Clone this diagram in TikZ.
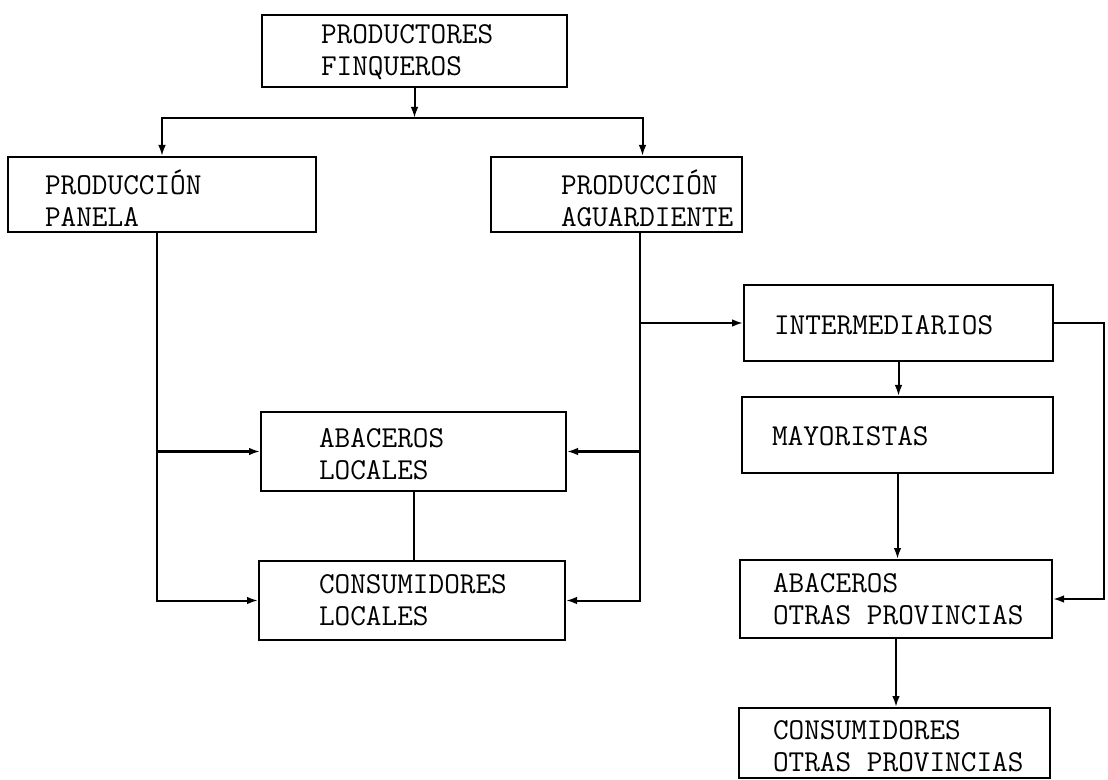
\documentclass[tikz,border=0pt]{standalone}
\usepackage{fontspec}
\usetikzlibrary{arrows.meta}

\begin{document}
\begin{tikzpicture}[x=0.5pt, y=-0.5pt, line width=1pt,
  box/.style={draw, inner sep=0pt},
  txt/.style={anchor=west, align=left, inner sep=0pt,
    font=\ttfamily\fontsize{15.2}{16}\selectfont},
  arr/.style={-{Latex[length=5.5pt,width=3.8pt]}}]
  \useasboundingbox (0,0) rectangle (1108,780);

  \node[box, minimum width=152.5pt, minimum height=36pt]   (fin) at (414.5,51)  {};
  \node[box, minimum width=154pt,   minimum height=37.5pt] (pan) at (162,194.5) {};
  \node[box, minimum width=125.5pt, minimum height=37.5pt] (agu) at (616.5,194.5) {};
  \node[box, minimum width=152.5pt, minimum height=39.5pt] (aba) at (413.5,451.5) {};
  \node[box, minimum width=153pt,   minimum height=39.5pt] (con) at (412,600.5) {};
  \node[box, minimum width=154.5pt, minimum height=38pt]   (int) at (898.5,323) {};
  \node[box, minimum width=155.5pt, minimum height=38pt]   (may) at (897.5,435) {};
  \node[box, minimum width=156pt,   minimum height=39pt]   (abo) at (896,599) {};
  \node[box, minimum width=155.5pt, minimum height=35pt]   (coo) at (894.5,743) {};

  \node[txt] (fin-t) at (320,52)  {PRODUCTORES\\FINQUEROS};
  \node[txt] (pan-t) at (44,198)  {PRODUCCIÓN\\PANELA};
  \node[txt] (agu-t) at (560,198) {PRODUCCIÓN\\AGUARDIENTE};
  \node[txt] (aba-t) at (318,454) {ABACEROS\\LOCALES};
  \node[txt] (con-t) at (318,600) {CONSUMIDORES\\LOCALES};
  \node[txt] (int-t) at (773,325) {INTERMEDIARIOS};
  \node[txt] (may-t) at (771,436) {MAYORISTAS};
  \node[txt] (abo-t) at (772,599) {ABACEROS\\OTRAS PROVINCIAS};
  \node[txt] (coo-t) at (772,746) {CONSUMIDORES\\OTRAS PROVINCIAS};

  \coordinate (split) at (414.5,118);
  \coordinate (pl) at ([xshift=-2.5pt]pan.south);
  \coordinate (al) at ([xshift=11.5pt]agu.south);
  \coordinate (re) at (1104,0);

  \draw[arr] (fin.south) -- (split);
  \draw[arr] (split) -| (pan.north);
  \draw[arr] (split) -| ([xshift=13pt]agu.north);

  \draw[arr] (pl) |- (con.west);
  \draw[arr] (pl |- aba.west) -- (aba.west);

  \draw[arr] (al) |- (con.east);
  \draw[arr] (al |- aba.east) -- (aba.east);
  \draw[arr] (al |- int.west) -- (int.west);

  \draw (aba.south) -- (aba.south |- con.north);

  \draw[arr] (int.east) -| (re |- abo.east) -- (abo.east);
  \draw[arr] (int.south) -- (int.south |- may.north);
  \draw[arr] (may.south) -- (may.south |- abo.north);
  \draw[arr] (abo.south) -- (abo.south |- coo.north);
\end{tikzpicture}
\end{document}
